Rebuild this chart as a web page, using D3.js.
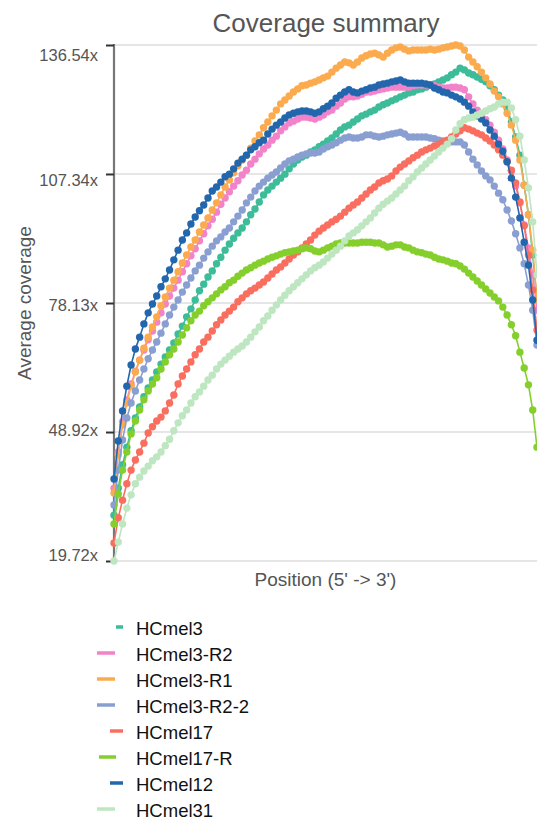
<!DOCTYPE html>
<html>
<head>
<meta charset="utf-8">
<script src="https://cdn.jsdelivr.net/npm/d3@7"></script>
<style>
  html, body { margin: 0; padding: 0; background: #fff; }
  svg { display: block; }
</style>
</head>
<body>
<div id="chart"></div>
<script>
// ---- data ----
const seriesNames = ["HCmel3", "HCmel3-R2", "HCmel3-R1", "HCmel3-R2-2", "HCmel17", "HCmel17-R", "HCmel12", "HCmel31"];
const seriesColors = ["#3cbc98", "#f282c9", "#fbab4d", "#8a9fd1", "#f96e5f", "#85cf2c", "#2267ad", "#bde6c1"];
const yTickValues = [19.72, 48.92, 78.13, 107.34, 136.54];
const positions = d3.range(1, 101); // 1..100 % along transcript (5' -> 3')

const hcmel3 = [
  30.1,36.2,41.5,45.5,49.2,52.1,54.6,56.9,58.9,60.7,
  62.5,64.3,65.9,67.5,69.1,71.1,72.9,75.0,76.8,78.8,
  80.9,82.4,84.0,85.4,87.0,88.5,90.1,91.5,92.8,94.0,
  95.1,96.5,98.1,99.4,101.0,102.6,103.7,104.6,105.5,106.4,
  107.3,108.5,109.6,110.5,111.2,111.6,112.3,112.8,113.5,114.1,
  114.8,115.5,116.4,117.3,118.0,118.4,119.1,119.8,120.5,120.9,
  121.4,121.8,122.5,123.0,123.4,123.9,124.3,124.8,125.2,125.7,
  125.9,126.4,126.6,127.0,127.5,127.7,128.2,128.6,129.1,129.8,
  130.4,131.3,130.9,130.2,129.8,129.3,128.8,128.2,127.3,126.4,
  125.2,124.1,122.3,119.1,115.7,111.6,104.8,98.1,89.0,78.8];
const hcmel3R2 = [
  36.2,44.4,51.2,56.2,59.8,62.7,65.2,67.5,69.8,71.8,
  73.8,75.9,77.9,79.7,81.5,83.3,85.2,87.0,88.8,90.4,
  92.2,93.8,95.6,97.1,98.7,100.5,101.9,103.3,104.6,105.8,
  107.1,108.2,109.6,110.7,111.9,113.0,113.9,115.0,115.9,117.1,
  118.0,118.9,119.3,119.8,120.2,120.2,120.0,119.8,120.2,120.7,
  121.4,121.8,122.7,123.4,124.3,124.8,124.8,125.0,125.4,125.9,
  125.9,126.1,126.4,126.6,126.8,127.0,127.0,127.0,127.0,127.0,
  127.3,127.5,127.5,127.5,127.5,127.3,127.0,126.8,126.8,127.0,
  127.0,126.8,126.4,124.8,123.2,121.8,120.7,119.6,118.4,116.8,
  115.0,113.0,110.5,108.0,104.6,100.8,95.8,90.6,84.5,76.5];
const hcmel3R1 = [
  35.1,43.7,50.5,55.5,59.3,62.5,65.2,67.9,70.4,72.7,
  75.0,77.5,79.5,81.5,83.3,85.2,87.2,89.0,90.8,92.4,
  94.2,95.8,97.4,99.2,100.8,102.6,104.4,106.0,107.6,109.2,
  110.5,111.6,113.2,114.8,116.2,117.8,119.1,120.5,121.8,123.2,
  124.1,125.0,125.9,126.6,127.3,127.5,127.9,128.2,128.6,129.1,
  129.5,130.4,131.3,132.0,132.7,132.5,132.0,132.7,133.6,134.1,
  134.5,134.7,134.3,133.8,134.7,135.4,135.9,136.1,135.6,135.2,
  135.4,135.4,135.4,135.4,135.6,135.4,135.6,135.9,136.1,136.3,
  136.54,136.3,135.4,133.8,132.7,131.6,130.4,129.1,127.7,126.1,
  124.8,123.2,121.1,118.4,115.0,110.5,104.8,98.1,90.1,78.8];
const hcmel3R22 = [
  32.4,40.3,47.1,52.1,55.5,58.2,60.7,63.2,65.5,67.5,
  69.3,71.3,73.4,75.4,77.2,78.8,80.6,82.2,83.8,85.4,
  86.7,88.3,89.7,91.0,92.2,93.1,94.2,95.1,96.5,97.8,
  99.2,100.8,102.1,103.5,104.6,105.5,106.4,107.1,107.8,108.7,
  109.6,110.3,110.7,111.2,111.6,111.9,112.1,112.1,112.3,113.0,
  113.5,113.9,114.4,115.0,115.5,115.7,115.5,115.5,115.7,116.2,
  116.2,115.9,115.7,115.9,116.2,116.4,116.6,116.8,116.4,115.7,
  115.7,115.7,115.7,115.7,115.5,115.3,115.0,114.8,114.6,114.6,
  114.6,114.6,113.9,112.3,110.7,109.4,108.0,106.9,106.0,104.6,
  103.0,101.5,99.2,96.7,93.8,90.6,87.0,82.2,76.5,68.6];
const hcmel17 = [
  23.8,29.5,33.5,37.2,40.3,42.6,44.4,46.4,48.7,50.1,
  51.4,52.3,53.7,55.5,57.3,59.8,61.6,63.2,64.8,66.4,
  67.7,69.3,70.4,71.8,73.2,74.3,75.4,76.3,77.2,78.4,
  79.3,80.2,80.9,81.5,82.2,82.9,83.8,84.7,85.6,86.3,
  87.2,88.1,89.0,89.7,90.6,91.5,92.4,93.5,94.4,95.1,
  95.8,96.5,97.1,97.8,98.7,99.6,100.3,101.0,101.9,102.8,
  103.7,104.4,105.3,105.8,106.2,106.9,108.0,108.9,109.6,110.3,
  111.0,111.6,112.3,112.8,113.2,113.7,114.1,114.6,115.0,115.7,
  116.4,117.1,117.8,117.5,117.1,116.6,116.2,115.5,114.8,113.9,
  112.8,111.6,110.1,108.2,105.3,101.0,95.6,89.0,81.1,72.0];
const hcmel17R = [
  28.1,34.9,40.3,44.4,48.5,51.4,53.9,56.2,58.2,59.8,
  61.2,63.2,64.8,66.4,67.7,69.3,70.9,72.5,74.1,75.4,
  76.3,77.5,78.4,79.3,80.2,81.1,81.8,82.7,83.3,84.2,
  84.9,85.6,86.1,86.7,87.2,87.6,88.1,88.5,88.8,89.2,
  89.5,89.7,89.9,90.1,90.4,90.6,90.4,89.9,89.7,90.1,
  90.6,91.0,91.5,91.7,91.7,91.7,91.7,91.7,91.9,91.9,
  91.9,91.7,91.7,91.3,90.8,91.0,91.3,91.3,90.8,90.6,
  90.1,89.7,89.5,89.2,89.0,88.5,88.1,87.9,87.6,87.2,
  87.0,86.5,85.8,84.9,84.0,83.1,82.2,81.3,80.4,79.5,
  78.6,77.2,75.4,73.2,70.7,67.0,63.4,59.6,53.9,45.5];
const hcmel12 = [
  38.3,46.9,53.7,59.3,64.1,67.7,70.4,73.4,75.9,77.9,
  79.7,81.8,83.6,85.6,87.9,90.1,92.4,94.0,96.0,97.6,
  99.0,100.3,101.9,103.5,104.4,105.5,106.7,107.3,108.5,109.8,
  110.7,111.6,112.8,113.5,114.4,115.0,116.4,117.5,118.4,119.1,
  120.0,120.7,121.1,121.4,121.6,121.6,121.4,121.1,121.4,122.1,
  122.7,123.4,124.5,125.2,125.9,126.4,125.9,125.7,126.1,126.4,
  126.8,127.0,127.5,127.7,127.9,128.2,128.4,128.6,128.2,127.9,
  127.9,127.9,127.9,127.7,127.5,126.8,126.4,125.9,125.7,125.2,
  124.8,124.3,123.6,122.7,121.4,120.5,119.8,118.9,117.3,115.9,
  114.1,112.5,110.1,106.4,102.1,97.4,91.9,86.7,78.8,69.7];
const hcmel31 = [
  19.72,24.0,28.1,31.7,34.7,37.2,38.7,40.1,41.2,42.4,
  43.3,44.4,45.8,47.3,49.2,51.0,52.6,53.9,55.5,56.9,
  58.0,59.3,60.7,61.8,63.2,64.3,65.2,66.1,67.0,67.7,
  68.4,69.3,70.4,71.6,72.7,74.1,75.2,76.5,77.7,78.8,
  79.9,80.9,81.8,82.7,83.6,84.5,85.4,86.1,86.7,87.4,
  88.3,89.2,90.1,91.0,92.2,93.3,94.0,94.7,95.6,96.5,
  97.4,98.5,99.6,100.5,101.2,101.9,102.8,103.7,104.6,105.8,
  106.7,107.8,108.7,109.6,110.5,111.4,112.3,113.2,114.1,115.3,
  117.3,118.7,119.6,120.0,120.2,120.7,121.1,121.6,122.1,122.5,
  123.2,123.6,123.6,122.3,119.6,115.9,110.5,104.2,96.5,84.5];

const seriesValues = [hcmel3, hcmel3R2, hcmel3R1, hcmel3R22, hcmel17, hcmel17R, hcmel12, hcmel31];

// ---- layout ----
const W = 537, H = 821;
const plot = { left: 114, right: 537, top: 45, bottom: 561 };
const FONT = "'Liberation Sans', Arial, Helvetica, sans-serif";

const svg = d3.select("#chart").append("svg")
  .attr("width", W).attr("height", H)
  .style("background", "#fff");

const x = d3.scaleLinear().domain([1, 100]).range([plot.left, plot.right]);
const y = d3.scaleLinear().domain([yTickValues[0], yTickValues[yTickValues.length - 1]]).range([plot.bottom, plot.top]);

// gridlines
svg.append("g").selectAll("line").data(yTickValues).join("line")
  .attr("x1", plot.left).attr("x2", plot.right + 2)
  .attr("y1", d => y(d)).attr("y2", d => y(d))
  .attr("stroke", "#dedede").attr("stroke-width", 1.5);

// title
svg.append("text")
  .attr("x", 326).attr("y", 32)
  .attr("text-anchor", "middle")
  .attr("font-family", FONT).attr("font-size", 26)
  .attr("fill", "#555")
  .text("Coverage summary");

// y axis
const yAxis = d3.axisLeft(y).tickValues(yTickValues)
  .tickFormat(d => d.toFixed(2) + "x").tickSize(8).tickPadding(8);
const gy = svg.append("g").attr("transform", `translate(${plot.left},0)`).call(yAxis);
gy.select(".domain").attr("stroke", "#777").attr("stroke-width", 2.2)
  .attr("d", `M0,${plot.top - 1}V${plot.bottom + 1}`);
gy.selectAll(".tick line").attr("stroke", "#333").attr("stroke-width", 2);
// labels sit slightly inset from the tick ends, like the reference
const yLabel = y.copy().range([plot.bottom - 6, plot.top + 10]);
gy.selectAll(".tick text")
  .attr("font-family", FONT).attr("font-size", 16.5).attr("fill", "#555")
  .attr("transform", d => `translate(0,${yLabel(d) - y(d)})`);

// axis titles
svg.append("text")
  .attr("transform", `translate(31,${(plot.top + plot.bottom) / 2}) rotate(-90)`)
  .attr("text-anchor", "middle")
  .attr("font-family", FONT).attr("font-size", 19).attr("fill", "#555")
  .text("Average coverage");
svg.append("text")
  .attr("x", (plot.left + plot.right) / 2).attr("y", 586)
  .attr("text-anchor", "middle")
  .attr("font-family", FONT).attr("font-size", 19).attr("fill", "#555")
  .text("Position (5' -> 3')");

// series
const series = seriesNames.map((name, i) => ({
  name, color: seriesColors[i],
  values: seriesValues[i].map((v, j) => ({ x: positions[j], y: v }))
}));

const line = d3.line().x(d => x(d.x)).y(d => y(d.y));
const gs = svg.append("g");
series.forEach(s => {
  const g = gs.append("g");
  g.append("path").attr("d", line(s.values))
    .attr("fill", "none").attr("stroke", s.color).attr("stroke-width", 1.6);
  g.selectAll("circle").data(s.values).join("circle")
    .attr("cx", d => x(d.x)).attr("cy", d => y(d.y)).attr("r", 3.7)
    .attr("fill", s.color);
});

// legend
const legendSwatch = [[116, 123], [97, 115], [97, 115], [97, 115], [110, 123], [99, 116], [110, 123], [97, 115]];
const lg = svg.append("g");
series.forEach((s, i) => {
  const cy = 629 + i * 26;
  lg.append("line")
    .attr("x1", legendSwatch[i][0]).attr("x2", legendSwatch[i][1])
    .attr("y1", cy - 2).attr("y2", cy - 2)
    .attr("stroke", s.color).attr("stroke-width", 3.5);
  lg.append("text")
    .attr("x", 136).attr("y", cy).attr("dy", "0.35em")
    .attr("font-family", FONT).attr("font-size", 18.5).attr("fill", "#111")
    .text(s.name);
});
</script>
</body>
</html>
